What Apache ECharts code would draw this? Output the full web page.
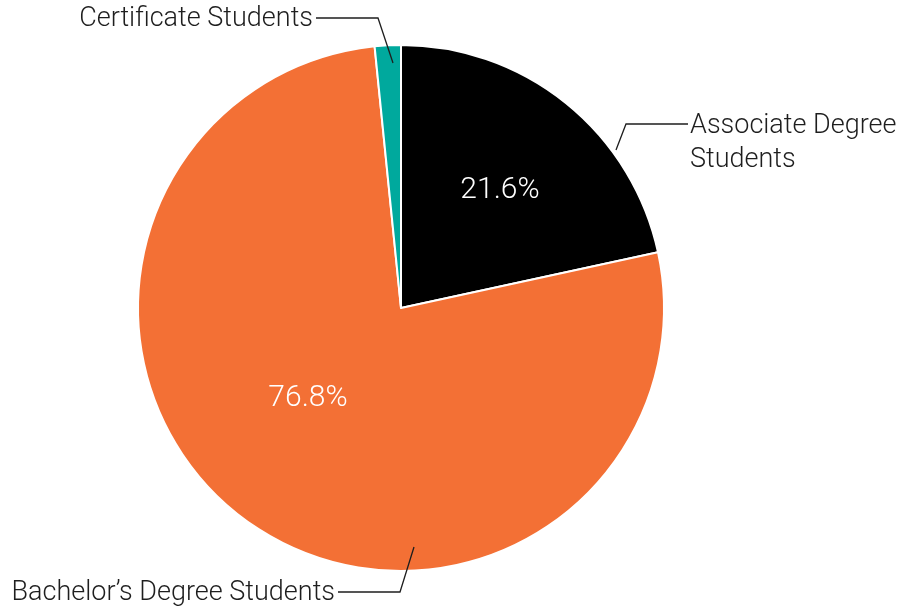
<!DOCTYPE html>
<html>
<head>
<meta charset="utf-8">
<script src="https://cdn.jsdelivr.net/npm/echarts@6/dist/echarts.min.js"></script>
<style>html,body{margin:0;padding:0;background:#fff}#c{width:899px;height:609px}</style>
</head>
<body>
<div id="c"></div>
<script>
// ---- data ----
const categories = ['Associate Degree Students', 'Bachelor\u2019s Degree Students', 'Certificate Students'];
const displayNames = ['Associate Degree\nStudents', 'Bachelor\u2019s Degree Students', 'Certificate Students'];
const values = [21.6, 76.8, 1.6];
const showPercent = [true, true, false];

// ---- style / layout ----
const colors = ['#000000', '#F37035', '#00A99D'];
const CX = 401, CY = 308, R = 263;
// inner percent label positions (offset from center, px)
const innerPos = [[99, -118], [-93, 90], [0, 0]];
// outer label guide: anchor, elbow, label end (offsets from center), align
const outerPos = [
  { a: [215, -158], e: [225, -184], l: [287, -184], align: 'left', multiline: true },
  { a: [13, 239], e: [-1, 284], l: [-63, 284], align: 'right' },
  { a: [-8, -245], e: [-23, -290], l: [-85, -290], align: 'right' }
];
const FONT = 'Roboto, "Noto Sans", sans-serif';

const chart = echarts.init(document.getElementById('c'), null, { renderer: 'canvas' });
const pieData = categories.map((c, i) => ({ name: c, value: values[i], itemStyle: { color: colors[i] } }));
const labelData = categories.map((c, i) => ({ name: c, value: values[i] }));

chart.setOption({
  animation: false,
  series: [
    {
      type: 'pie',
      z: 2,
      center: [CX, CY],
      radius: R,
      startAngle: 90,
      clockwise: true,
      silent: true,
      itemStyle: { borderColor: '#fff', borderWidth: 2 },
      label: {
        show: true,
        position: 'inside',
        formatter: p => showPercent[p.dataIndex] ? p.value.toFixed(1) + '%' : '',
        color: '#fff',
        fontSize: 30,
        fontFamily: FONT,
        fontWeight: 300
      },
      labelLayout: p => {
        const o = innerPos[p.dataIndex];
        return { x: CX + o[0], y: CY + o[1], align: 'center', verticalAlign: 'middle' };
      },
      data: pieData
    },
    {
      type: 'pie',
      z: 5,
      center: [CX, CY],
      radius: R,
      startAngle: 90,
      clockwise: true,
      silent: true,
      itemStyle: { color: 'rgba(0,0,0,0)', borderWidth: 0 },
      label: {
        show: true,
        position: 'outside',
        formatter: p => displayNames[p.dataIndex],
        color: '#1e1e1e',
        fontSize: 27,
        lineHeight: 34,
        fontFamily: FONT,
        fontWeight: 300,
        overflow: 'none',
        width: 600
      },
      labelLine: { show: true, length: 20, length2: 40, lineStyle: { color: '#1e1e1e', width: 1.3 } },
      labelLayout: p => {
        const o = outerPos[p.dataIndex];
        const lx = CX + o.l[0] + (o.align === 'left' ? 2 : -3);
        const ly = CY + o.l[1] + (o.multiline ? -15 : 1);
        return {
          x: lx,
          y: ly,
          align: o.align,
          verticalAlign: o.multiline ? 'top' : 'middle',
          labelLinePoints: [
            [CX + o.a[0], CY + o.a[1]],
            [CX + o.e[0], CY + o.e[1]],
            [CX + o.l[0], CY + o.l[1]]
          ]
        };
      },
      data: labelData
    }
  ]
});
</script>
</body>
</html>
